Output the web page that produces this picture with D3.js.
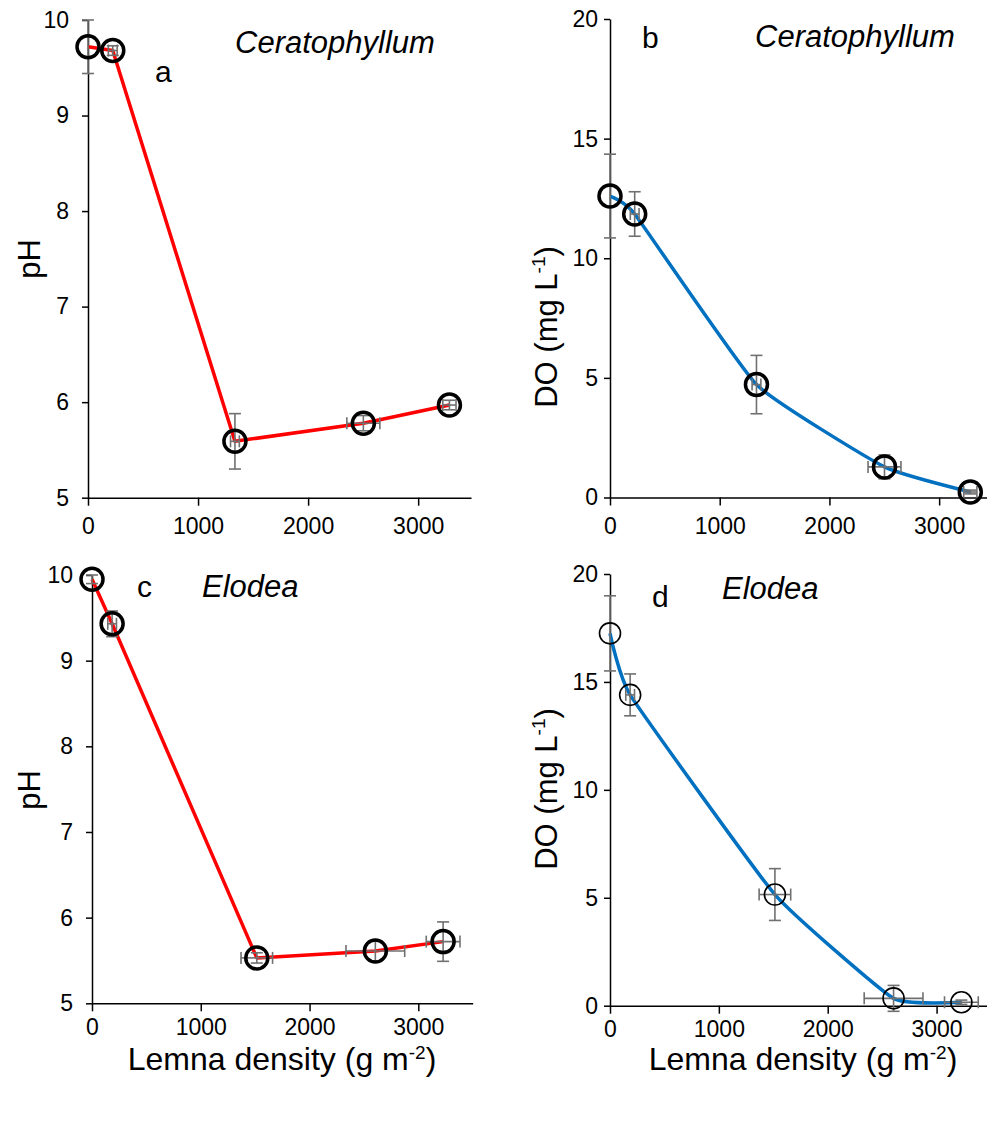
<!doctype html>
<html lang="en">
  <head>
    <meta charset="UTF-8" />
    <title>pH and DO vs Lemna density</title>
    <script src="https://d3js.org/d3.v7.min.js"></script>
    <style>
      body {
        margin: 0;
        background: #fff;
      }
      svg {
        display: block;
        font-family: Arial, "Liberation Sans", sans-serif;
      }
    </style>
  </head>
  <body>
    <svg width="987" height="1129"></svg>

    <script>
      // Ceratophyllum (panels a, b)
      const densityCer = [0, 225, 1335, 2502, 3284];
      const densityCerErr = [0, 40, 40, 150, 60];
      const phCer = [9.72, 9.68, 5.59, 5.78, 5.97];
      const phCerErr = [0.28, 0.05, 0.29, 0.08, 0.05];
      const doCer = [12.6, 11.85, 4.72, 1.28, 0.23];
      const doCerErr = [1.75, 0.93, 1.22, 0.5, 0.08];

      // Elodea (panels c, d)
      const densityElo = [0, 185, 1515, 2605, 3228];
      const densityEloErr = [0, 40, 145, 270, 155];
      const phElo = [9.95, 9.43, 5.53, 5.61, 5.72];
      const phEloErr = [0.05, 0.15, 0.06, 0.12, 0.23];
      const doElo = [17.25, 14.4, 5.15, 0.34, 0.16];
      const doEloErr = [1.74, 0.97, 1.2, 0.6, 0.1];

      const xTicks = [0, 1000, 2000, 3000];
      const phTicks = [5, 6, 7, 8, 9, 10];
      const doTicks = [0, 5, 10, 15, 20];

      const svg = d3.select("svg");

      const panels = [
        {
          x: densityCer, xErr: densityCerErr, y: phCer, yErr: phCerErr,
          xMax: 3480, left: 88, right: 471, top: 20, bottom: 497.7,
          yDomain: [5, 10], yTicks: phTicks, yPad: 13, xPad: 12,
          color: "#ff0000", smooth: false, r: 11, ringWidth: 3.5,
          letter: "a", letterX: 155, letterY: 82,
          species: "Ceratophyllum", speciesX: 235, speciesY: 53,
          yTitle: "pH", yTitleX: 40, yTitleY: 259, xTitle: false,
        },
        {
          x: densityCer, xErr: densityCerErr, y: doCer, yErr: doCerErr,
          xMax: 3500, left: 610, right: 994, top: 19, bottom: 497.5,
          yDomain: [0, 20], yTicks: doTicks, yPad: 6, xPad: 12,
          color: "#0070c0", smooth: true, r: 11, ringWidth: 3.5,
          letter: "b", letterX: 642, letterY: 48,
          species: "Ceratophyllum", speciesX: 755, speciesY: 47,
          yTitle: "DO", yTitleX: 557, yTitleY: 327, xTitle: false,
        },
        {
          x: densityElo, xErr: densityEloErr, y: phElo, yErr: phEloErr,
          xMax: 3500, left: 92, right: 472.7, top: 575, bottom: 1003.3,
          yDomain: [5, 10], yTicks: phTicks, yPad: 13, xPad: 7,
          color: "#ff0000", smooth: false, r: 11, ringWidth: 3.5,
          letter: "c", letterX: 137, letterY: 597,
          species: "Elodea", speciesX: 202, speciesY: 597,
          yTitle: "pH", yTitleX: 40, yTitleY: 790, xTitle: true,
        },
        {
          x: densityElo, xErr: densityEloErr, y: doElo, yErr: doEloErr,
          xMax: 3500, left: 610, right: 991, top: 574, bottom: 1005.7,
          yDomain: [0, 20], yTicks: doTicks, yPad: 6, xPad: 7,
          color: "#0070c0", smooth: true, r: 10.5, ringWidth: 1.6,
          letter: "d", letterX: 652, letterY: 607,
          species: "Elodea", speciesX: 722, speciesY: 599,
          yTitle: "DO", yTitleX: 557, yTitleY: 789, xTitle: true,
        },
      ];

      function styleAxis(sel) {
        sel.select(".domain").attr("stroke", "#000").attr("stroke-width", 1.5);
        sel.selectAll(".tick line").attr("stroke", "#000").attr("stroke-width", 1.5);
        sel.selectAll(".tick text")
          .attr("fill", "#000")
          .style("font-size", "23px")
          .style("font-family", "Arial, 'Liberation Sans', sans-serif");
      }

      function drawPanel(p) {
        const x = d3.scaleLinear().domain([0, p.xMax]).range([p.left, p.right]);
        const y = d3.scaleLinear().domain(p.yDomain).range([p.bottom, p.top]);
        const g = svg.append("g");

        g.append("g")
          .attr("transform", `translate(0,${p.bottom})`)
          .call(
            d3.axisBottom(x).tickValues(xTicks).tickSize(8).tickSizeOuter(0)
              .tickPadding(p.xPad).tickFormat(d3.format("d")),
          )
          .call(styleAxis);

        g.append("g")
          .attr("transform", `translate(${p.left},0)`)
          .call(
            d3.axisLeft(y).tickValues(p.yTicks).tickSize(6).tickSizeOuter(0)
              .tickPadding(p.yPad).tickFormat(d3.format("d")),
          )
          .call(styleAxis);

        const pts = p.x.map((d, i) => ({ x: d, xe: p.xErr[i], y: p.y[i], ye: p.yErr[i] }));

        const line = d3.line()
          .x((d) => x(d.x))
          .y((d) => y(d.y))
          .curve(p.smooth ? d3.curveCardinal.tension(0.6) : d3.curveLinear);

        g.append("path")
          .datum(pts)
          .attr("d", line)
          .attr("fill", "none")
          .attr("stroke", p.color)
          .attr("stroke-width", 3.5)
          .attr("stroke-linejoin", "round");

        // error bars
        const eb = g.append("g").attr("stroke", "#707070").attr("stroke-width", 1.6);
        const cap = 6;
        pts.forEach((d) => {
          const cx = x(d.x), cy = y(d.y);
          if (d.ye > 0) {
            const y1 = y(d.y + d.ye), y2 = y(d.y - d.ye);
            eb.append("line").attr("x1", cx).attr("x2", cx).attr("y1", y1).attr("y2", y2);
            eb.append("line").attr("x1", cx - cap).attr("x2", cx + cap).attr("y1", y1).attr("y2", y1);
            eb.append("line").attr("x1", cx - cap).attr("x2", cx + cap).attr("y1", y2).attr("y2", y2);
          }
          if (d.xe > 0) {
            const x1 = x(d.x - d.xe), x2 = x(d.x + d.xe);
            eb.append("line").attr("x1", x1).attr("x2", x2).attr("y1", cy).attr("y2", cy);
            eb.append("line").attr("x1", x1).attr("x2", x1).attr("y1", cy - cap).attr("y2", cy + cap);
            eb.append("line").attr("x1", x2).attr("x2", x2).attr("y1", cy - cap).attr("y2", cy + cap);
          }
        });

        g.selectAll("circle")
          .data(pts)
          .join("circle")
          .attr("cx", (d) => x(d.x))
          .attr("cy", (d) => y(d.y))
          .attr("r", p.r)
          .attr("fill", "none")
          .attr("stroke", "#000")
          .attr("stroke-width", p.ringWidth);

        g.append("text")
          .attr("x", p.letterX)
          .attr("y", p.letterY)
          .style("font-size", "30px")
          .text(p.letter);

        g.append("text")
          .attr("x", p.speciesX)
          .attr("y", p.speciesY)
          .style("font-size", "31px")
          .style("font-style", "italic")
          .text(p.species);

        const yt = g.append("text")
          .attr("transform", `translate(${p.yTitleX},${p.yTitleY}) rotate(-90)`)
          .attr("text-anchor", "middle")
          .style("font-size", "31px");
        if (p.yTitle === "pH") {
          yt.text("pH");
        } else {
          yt.append("tspan").text("DO (mg L");
          yt.append("tspan").attr("dy", -12).style("font-size", "19px").text("-1");
          yt.append("tspan").attr("dy", 12).text(")");
        }

        if (p.xTitle) {
          const xt = g.append("text")
            .attr("x", p.left < 300 ? 282 : 803)
            .attr("y", 1070)
            .attr("text-anchor", "middle")
            .style("font-size", "32px");
          xt.append("tspan").text("Lemna density (g m");
          xt.append("tspan").attr("dy", -11).style("font-size", "19px").text("-2");
          xt.append("tspan").attr("dy", 11).text(")");
        }
      }

      panels.forEach(drawPanel);
    </script>
  </body>
</html>
